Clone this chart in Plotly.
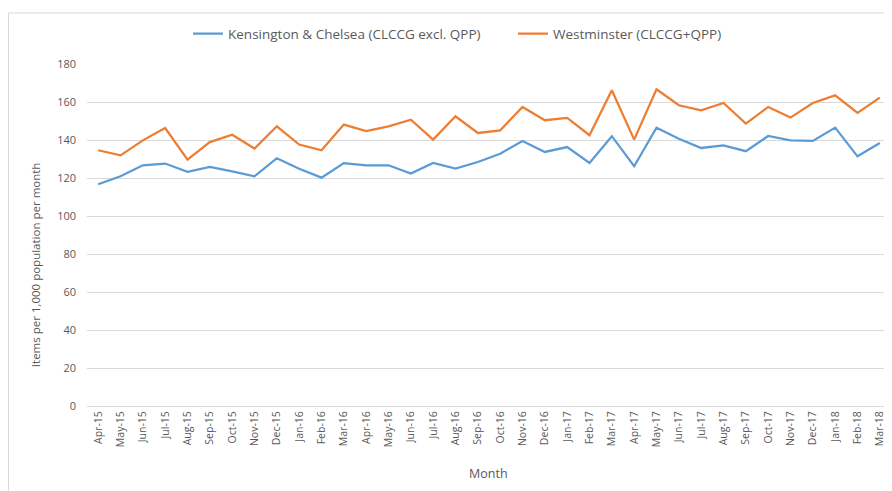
import plotly.graph_objects as go

months = ["Apr-15","May-15","Jun-15","Jul-15","Aug-15","Sep-15","Oct-15","Nov-15","Dec-15","Jan-16","Feb-16","Mar-16",
          "Apr-16","May-16","Jun-16","Jul-16","Aug-16","Sep-16","Oct-16","Nov-16","Dec-16","Jan-17","Feb-17","Mar-17",
          "Apr-17","May-17","Jun-17","Jul-17","Aug-17","Sep-17","Oct-17","Nov-17","Dec-17","Jan-18","Feb-18","Mar-18"]

kensington = [116.7,120.9,126.7,127.6,123.2,125.8,123.5,120.9,130.4,124.9,120.2,127.8,
              126.7,126.7,122.3,127.9,124.9,128.4,132.8,139.5,133.7,136.3,127.9,142.0,
              126.2,146.5,140.7,135.8,137.2,134.1,142.1,139.8,139.5,146.5,131.4,138.4]

westminster = [134.6,131.9,139.8,146.3,129.7,138.9,142.8,135.5,147.2,137.6,134.6,148.1,
               144.7,147.2,150.7,140.2,152.5,143.7,145.1,157.4,150.4,151.6,142.5,166.2,
               140.2,166.7,158.3,155.6,159.5,148.6,157.4,151.8,159.5,163.5,154.3,162.3]

y_ticks = [0,20,40,60,80,100,120,140,160,180]

FONT = "Open Sans, Arial"
GREY = "#595959"

# page body has an 8px margin; the figure is sized to fill the rest of the window
OFF = 8
W, H = 892 - OFF, 491 - OFF
L, R, T, B = 87 - OFF, 1, 64 - OFF, 491 - 405.7
pw, ph = W - L - R, H - T - B

def px_x(p):  # p in window pixels
    return (p - OFF - L) / pw

def px_y(p):
    return (H - B - (p - OFF)) / ph

fig = go.Figure()
fig.add_trace(go.Scatter(x=months, y=kensington, mode="lines",
                         name="Kensington & Chelsea (CLCCG excl. QPP)",
                         line=dict(color="#5B9BD5", width=2.25)))
fig.add_trace(go.Scatter(x=months, y=westminster, mode="lines",
                         name="Westminster (CLCCG+QPP)",
                         line=dict(color="#ED7D31", width=2.25)))

fig.update_layout(
    width=W, height=H,
    margin=dict(l=L, r=R, t=T, b=B, autoexpand=False),
    paper_bgcolor="white", plot_bgcolor="white",
    font=dict(family=FONT, color=GREY, size=10),
    showlegend=True,
    legend=dict(orientation="h", x=px_x(188), xanchor="left", y=px_y(34), yanchor="middle",
                font=dict(family=FONT, size=13.5, color=GREY), itemwidth=30,
                entrywidth=280, entrywidthmode="pixels",
                bgcolor="rgba(0,0,0,0)"),
    xaxis=dict(type="category", range=[-0.5, 35.5], tickangle=-90, automargin=False,
               tickfont=dict(size=10.5, color=GREY, family=FONT),
               showgrid=False, showline=True, linecolor="#d9d9d9", linewidth=1,
               ticks=""),
    yaxis=dict(range=[0, 180], tickvals=y_ticks, automargin=False,
               tickfont=dict(size=11, color=GREY, family=FONT),
               showgrid=True, gridcolor="#d9d9d9", gridwidth=1, zeroline=False,
               showline=False, ticks="", ticklabelstandoff=10),
    annotations=[
        dict(text="Month", xref="paper", yref="paper", x=px_x(488), y=px_y(473),
             xanchor="center", yanchor="middle", showarrow=False,
             font=dict(size=12.5, color=GREY, family=FONT)),
        dict(text="Items per 1,000 population per month", xref="paper", yref="paper",
             x=px_x(35), y=px_y(265), xanchor="center", yanchor="middle", textangle=-90,
             showarrow=False, font=dict(size=11.5, color=GREY, family=FONT)),
    ],
    shapes=[dict(type="rect", xref="paper", yref="paper", x0=px_x(8.5), x1=px_x(900),
                 y0=px_y(500), y1=px_y(13),
                 line=dict(color="#d9d9d9", width=1), fillcolor="rgba(0,0,0,0)", layer="below")],
)

fig.write_html("out.html")
